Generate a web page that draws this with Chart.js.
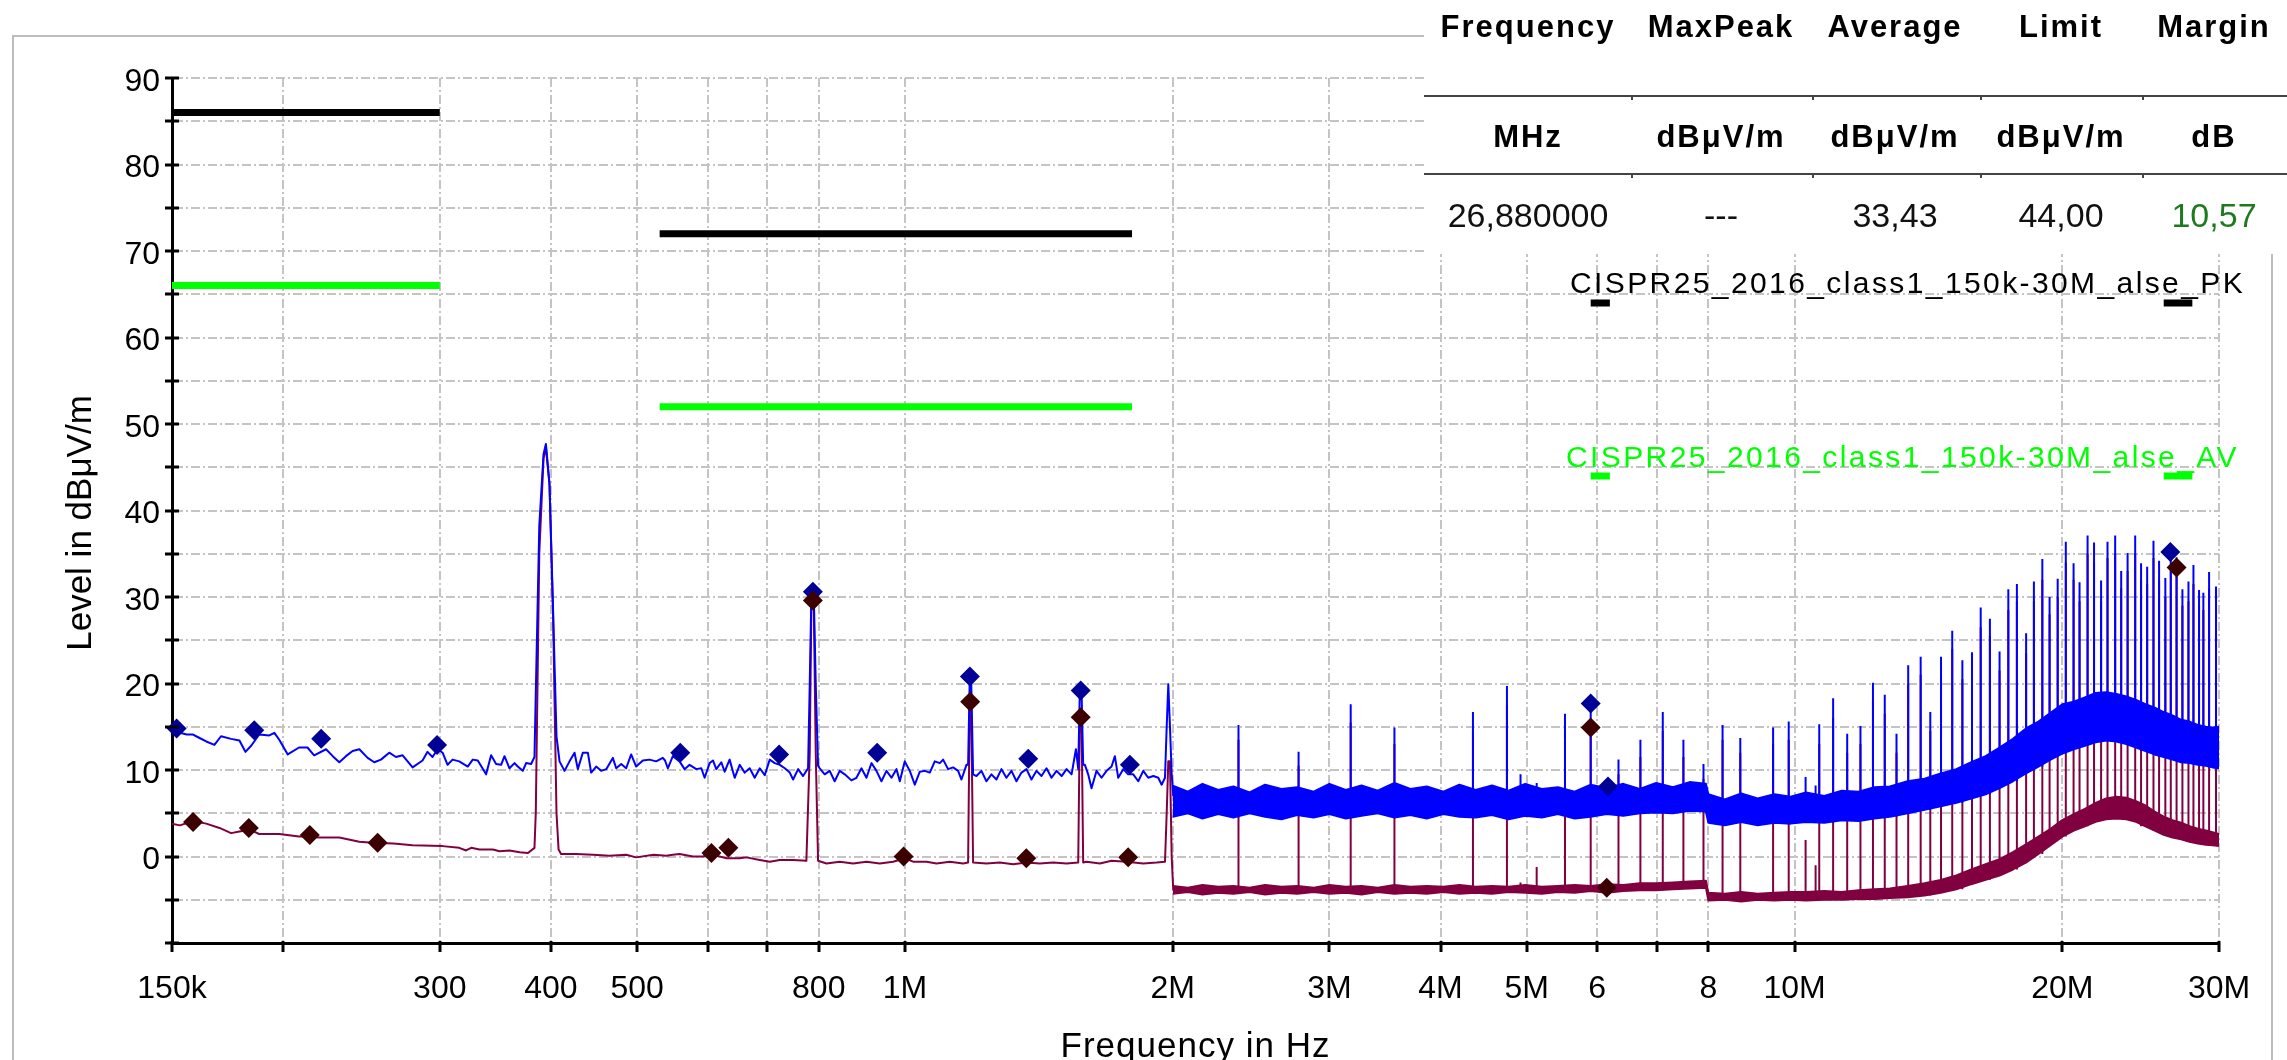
<!DOCTYPE html>
<html>
<head>
<meta charset="utf-8">
<script src="https://cdn.jsdelivr.net/npm/chart.js@4.4.1/dist/chart.umd.min.js"></script>
<style>
html, body { margin:0; padding:0; background:#fff; overflow:hidden; }
</style>
</head>
<body>
<canvas id="emc" width="2287" height="1060"></canvas>
<script>
// frequencies in MHz, levels in dBµV/m

// peak trace 150k..2M
const pkLowFreq = [
0.1500,0.1531,0.1558,0.1584,0.1611,0.1639,0.1674,0.1703,0.1748,0.1786,
0.1814,0.1841,0.1880,0.1930,0.1955,0.1980,0.2024,0.2084,0.2130,0.2167,
0.2235,0.2274,0.2313,0.2353,0.2394,0.2436,0.2489,0.2532,0.2576,0.2632,
0.2678,0.2725,0.2796,0.2869,0.2906,0.2944,0.2983,0.3022,0.3061,0.3101,
0.3155,0.3225,0.3267,0.3310,0.3382,0.3426,0.3471,0.3516,0.3547,0.3593,
0.3640,0.3671,0.3719,0.3751,0.3800,0.3833,0.3846,0.3881,0.3924,0.3948,
0.3985,0.4022,0.4058,0.4090,0.4143,0.4197,0.4252,0.4288,0.4344,0.4401,
0.4439,0.4497,0.4555,0.4615,0.4695,0.4736,0.4798,0.4860,0.4923,0.4987,
0.5074,0.5162,0.5252,0.5343,0.5374,0.5413,0.5484,0.5580,0.5653,0.5727,
0.5827,0.5903,0.5954,0.6032,0.6084,0.6137,0.6217,0.6271,0.6352,0.6436,
0.6520,0.6605,0.6691,0.6778,0.6868,0.6957,0.7047,0.7139,0.7233,0.7327,
0.7422,0.7487,0.7584,0.7682,0.7782,0.7816,0.7850,0.7897,0.7938,0.7986,
0.8020,0.8125,0.8230,0.8337,0.8446,0.8557,0.8706,0.8820,0.8935,0.9052,
0.9170,0.9289,0.9410,0.9533,0.9658,0.9783,0.9868,0.9996,1.0126,1.0258,
1.0392,1.0527,1.0665,1.0803,1.0944,1.1038,1.1182,1.1328,1.1475,1.1575,
1.1726,1.1776,1.1827,1.1868,1.1929,1.2033,1.2189,1.2348,1.2509,1.2672,
1.2837,1.3004,1.3175,1.3346,1.3520,1.3696,1.3874,1.4057,1.4240,1.4425,
1.4613,1.4805,1.5001,1.5195,1.5393,1.5566,1.5660,1.5725,1.5793,1.5862,
1.5932,1.6068,1.6208,1.6419,1.6633,1.6851,1.7071,1.7218,1.7368,1.7594,
1.7822,1.8057,1.8292,1.8530,1.8771,1.9019,1.9266,1.9433,1.9603,1.9689,
1.9771,1.9857,1.9944,2.0027
];
const pkLowLevel = [
14.5,14.3,14.1,14.1,13.7,13.3,12.9,13.9,13.6,13.4,
12.1,12.8,14.1,14.0,14.3,13.5,11.8,12.6,12.6,11.7,
12.4,11.6,10.9,11.6,12.2,12.4,11.4,10.9,11.2,12.0,
11.5,11.7,10.3,11.1,12.1,11.5,12.4,12.0,10.6,11.2,
11.0,10.4,11.2,11.1,9.5,11.7,10.7,10.6,11.6,10.2,
10.8,10.4,9.9,10.8,10.7,11.5,18.8,38.2,46.5,47.7,
43.1,28.5,13.9,11.0,9.9,11.0,12.0,10.1,12.0,12.0,
9.7,10.4,9.9,10.1,11.4,10.2,10.7,10.2,11.8,10.4,
11.1,11.2,11.0,11.4,11.1,10.2,11.6,11.0,10.1,10.6,
10.1,10.2,9.1,10.8,11.1,10.1,10.9,9.8,11.2,9.1,
10.6,9.7,10.2,9.1,10.2,9.4,11.2,10.8,10.6,10.2,
9.7,8.9,10.1,9.3,10.2,20.0,30.5,30.5,20.0,10.5,
10.2,9.5,9.9,8.7,9.9,9.5,8.8,9.1,10.2,9.1,
10.8,9.9,8.7,9.9,9.1,10.1,8.7,11.0,9.9,8.3,
9.8,9.9,9.7,11.0,10.8,11.2,10.1,10.3,9.9,8.9,
10.6,10.6,20.9,20.9,9.5,9.3,9.9,8.7,9.5,8.9,
10.1,9.1,9.9,8.7,9.7,10.1,8.9,9.9,9.3,10.2,
9.1,9.9,9.3,10.1,9.5,12.4,10.1,19.3,19.3,10.6,
10.6,9.5,7.9,9.9,9.1,9.9,10.4,11.6,9.1,10.1,
9.5,9.5,8.7,9.9,9.1,9.3,9.1,8.3,9.1,15.0,
19.9,15.0,9.6,7.0
];

// average trace 150k..2M
const avLowFreq = [
0.1500,0.1531,0.1584,0.1639,0.1696,0.1748,0.1786,0.1833,0.1880,0.1980,
0.2084,0.2130,0.2196,0.2313,0.2436,0.2521,0.2661,0.2796,0.3022,0.3155,
0.3211,0.3254,0.3325,0.3442,0.3502,0.3593,0.3689,0.3769,0.3833,0.3846,
0.3881,0.3924,0.3948,0.3985,0.4022,0.4058,0.4080,0.4106,0.4270,0.4460,
0.4656,0.4860,0.4987,0.5218,0.5391,0.5484,0.5580,0.5777,0.5930,0.6032,
0.6302,0.6520,0.6634,0.6868,0.7047,0.7233,0.7487,0.7748,0.7816,0.7850,
0.7897,0.7938,0.7986,0.8161,0.8446,0.8744,0.9052,0.9370,0.9699,0.9996,
1.0213,1.0575,1.0851,1.1231,1.1626,1.1776,1.1827,1.1868,1.1929,1.2348,
1.2782,1.3232,1.3696,1.4176,1.4675,1.5195,1.5660,1.5725,1.5793,1.5862,
1.6001,1.6564,1.7071,1.7744,1.8530,1.9183,1.9603,1.9689,1.9771,1.9857,
1.9944,2.0027
];
const avLowLevel = [
3.8,3.6,4.1,3.8,3.3,2.7,2.9,3.1,2.6,2.6,
2.3,2.3,2.2,2.2,1.7,1.6,1.5,1.3,1.2,1.0,
0.7,1.0,0.8,0.8,0.6,0.7,0.5,0.4,1.0,5.0,
35.0,46.0,47.3,43.0,28.0,5.0,0.8,0.3,0.3,0.2,
0.1,0.2,-0.1,0.2,0.1,0.2,0.3,0.0,0.0,0.3,
-0.2,-0.2,-0.1,-0.4,-0.6,-0.4,-0.4,-0.5,12.0,29.6,
29.6,12.0,-0.5,-0.8,-0.6,-0.8,-0.6,-0.8,-0.6,-0.2,
-0.6,-0.6,-0.8,-0.6,-0.8,-0.7,18.2,18.2,-0.7,-0.8,
-0.7,-0.9,-0.7,-0.8,-0.7,-0.8,-0.7,16.3,16.3,-0.7,
-0.6,-0.8,-0.5,-0.6,-0.8,-0.7,-0.6,5.0,11.0,11.0,
0.0,-3.9
];

// dense noise band 2M..30M (upper / lower edge of the trace)
const bandFreq = [
2.0,2.08,2.16,2.25,2.34,2.44,2.54,2.65,2.76,2.88,
3.0,3.13,3.26,3.4,3.55,3.7,3.86,4.03,4.2,4.38,
4.57,4.77,4.98,5.2,5.42,5.66,5.9,6.15,6.42,6.7,
6.99,7.3,7.62,7.95,8.0,8.35,8.71,9.09,9.49,9.9,
10.3,10.8,11.3,11.8,12.3,12.8,13.4,14.0,14.6,15.2,
15.8,16.4,17.0,17.6,18.2,18.8,19.4,20.0,20.6,21.2,
21.8,22.4,23.0,23.6,24.2,24.8,25.4,26.0,26.6,27.2,
27.8,28.4,29.0,29.5,30.0
];
const pkTop = [
8.2,7.5,8.4,7.7,8.1,7.4,8.3,7.8,8.0,7.5,
8.4,7.7,8.2,7.6,8.5,7.8,8.1,7.5,8.3,7.7,
8.2,7.6,8.4,7.8,8.0,7.5,8.3,7.9,8.4,7.8,
8.5,8.0,8.6,8.4,7.2,6.6,7.3,6.7,7.2,6.9,
7.4,7.0,7.6,7.5,8.0,8.1,8.7,9.0,9.6,10.1,
10.9,11.6,12.6,13.6,14.8,15.6,16.6,17.6,17.9,18.4,
18.9,19.0,18.8,18.5,18.1,17.6,17.2,16.7,16.3,15.8,
15.6,15.2,15.0,14.9,15.0
];
const pkBot = [
4.6,5.0,4.4,4.9,4.5,5.0,4.6,4.3,4.8,4.5,
4.9,4.4,4.7,5.0,4.5,4.8,4.4,4.9,4.6,4.5,
4.8,4.3,4.7,4.5,4.9,4.4,4.6,4.9,4.7,5.0,
5.1,5.0,5.3,5.2,3.9,3.6,4.0,3.6,3.9,3.8,
4.0,3.9,4.2,4.1,4.4,4.6,5.0,5.4,5.8,6.2,
6.7,7.2,7.9,8.7,9.6,10.4,11.2,11.9,12.4,12.8,
13.2,13.4,13.3,13.0,12.6,12.2,11.8,11.5,11.2,10.9,
10.8,10.6,10.5,10.3,10.2
];
const avTop = [
-3.4,-3.6,-3.3,-3.5,-3.4,-3.6,-3.3,-3.5,-3.4,-3.6,
-3.3,-3.5,-3.4,-3.6,-3.3,-3.5,-3.4,-3.5,-3.3,-3.5,
-3.4,-3.5,-3.3,-3.5,-3.4,-3.3,-3.4,-3.2,-3.3,-3.1,
-3.1,-3.0,-2.9,-2.8,-4.2,-4.3,-4.1,-4.3,-4.2,-4.1,
-4.1,-4.0,-4.1,-3.9,-3.8,-3.7,-3.4,-3.1,-2.7,-2.2,
-1.5,-0.9,-0.3,0.5,1.4,2.3,3.2,4.2,4.9,5.5,
6.2,6.7,6.9,6.8,6.4,5.9,5.2,4.6,4.2,3.9,
3.5,3.2,3.0,2.8,2.6
];
const avBot = [
-4.3,-4.1,-4.4,-4.2,-4.3,-4.1,-4.4,-4.2,-4.3,-4.1,
-4.3,-4.2,-4.4,-4.1,-4.3,-4.2,-4.3,-4.1,-4.3,-4.2,
-4.3,-4.1,-4.2,-4.3,-4.1,-4.2,-4.0,-4.2,-4.0,-3.9,
-3.9,-3.8,-3.7,-3.6,-5.1,-5.0,-5.2,-5.0,-5.1,-5.0,
-5.1,-5.0,-5.0,-4.9,-4.9,-4.8,-4.7,-4.5,-4.2,-3.8,
-3.2,-2.7,-2.2,-1.5,-0.7,0.3,1.3,2.3,3.0,3.5,
4.0,4.3,4.4,4.3,4.0,3.5,3.0,2.5,2.2,2.0,
1.7,1.5,1.35,1.3,1.2
];

// harmonic spikes 2M..30M
const spikeFreq = [
2.371,2.770,3.170,3.550,4.350,4.750,4.920,5.130,5.520,5.900,
6.340,6.710,7.110,7.500,7.900,8.300,8.690,9.460,9.850,10.29,
10.56,10.66,11.05,11.46,11.86,12.25,12.63,13.02,13.42,13.86,
14.21,14.61,15.04,15.44,15.83,16.19,16.58,17.00,17.39,17.78,
18.21,18.58,18.99,19.35,19.76,20.18,20.59,20.91,21.35,21.71,
22.11,22.48,22.93,23.29,23.68,24.15,24.52,24.91,25.32,25.69,
26.11,26.48,26.88,27.29,27.72,28.08,28.49,28.81,29.24,29.77
];
const spikePk = [
15.2,12.1,17.6,14.9,16.7,19.7,9.5,8.5,16.5,17.7,
11.2,13.5,16.7,13.5,10.7,15.2,13.7,14.9,15.6,9.2,
8.2,15.3,18.3,14.2,15.1,20.1,18.7,14.2,22.1,23.1,
16.7,23.1,26.1,22.7,23.6,28.8,27.5,23.7,30.9,31.5,
25.8,31.8,34.4,30.0,32.1,36.4,33.9,31.7,37.1,36.3,
31.9,36.4,37.1,33.0,35.1,37.1,33.9,33.5,36.5,34.2,
32.2,35.2,34.6,30.9,31.8,33.7,30.8,30.5,32.9,31.2
];
const spikeAv = [
13.5,10.5,15.5,13.0,14.5,17.5,-3.0,-1.2,14.5,14.9,
9.5,11.5,14.5,11.5,9.0,13.5,12.0,13.0,13.5,1.9,
-1.0,13.0,16.0,12.0,13.0,18.0,16.5,12.0,20.0,21.0,
14.5,21.0,24.0,20.5,21.5,26.5,25.5,21.5,28.5,29.5,
23.5,29.5,32.0,28.0,30.0,34.0,32.0,29.5,35.0,34.0,
29.5,34.5,35.0,31.0,33.0,35.0,32.0,31.5,34.5,32.0,
30.0,33.0,33.4,29.0,29.5,31.5,29.0,28.5,31.0,29.0
];

// final measurement markers
const pkMarkFreq = [0.1518,0.1856,0.2207,0.2979,0.5590,0.7220,0.7880,0.9306,1.1830,1.3760,1.5760,1.7900,5.900,6.170,26.45];
const pkMarkLevel = [14.8,14.6,13.6,12.9,12.0,11.8,30.6,12.0,20.8,11.3,19.2,10.6,17.7,8.1,35.2];
const avMarkFreq = [0.1584,0.1830,0.2143,0.2554,0.6060,0.6332,0.7880,0.9965,1.1840,1.3690,1.5760,1.7820,5.900,6.150,26.88];
const avMarkLevel = [4.0,3.3,2.5,1.6,0.4,1.0,29.6,0.0,17.9,-0.2,16.1,-0.1,14.9,-3.6,33.4];

// CISPR 25 class 1 limits
const limitStart = [0.15,0.53,5.9,26];
const limitEnd = [0.3,1.8,6.2,28];
const limitPk = [86,72,64,64];
const limitAv = [66,52,44,44];
const limitNames = ['CISPR25_2016_class1_150k-30M_alse_PK','CISPR25_2016_class1_150k-30M_alse_AV'];

// axis ticks
const xTickValues = [0.15,0.2,0.3,0.4,0.5,0.6,0.7,0.8,1,2,3,4,5,6,7,8,10,20,30];
const xTickLabels = ['150k','','300','400','500','','','800','1M','2M','3M','4M','5M','6','','8','10M','20M','30M'];
const yLabelValues = [0,10,20,30,40,50,60,70,80,90];

// result table
const tableHead = ['Frequency','MaxPeak','Average','Limit','Margin'];
const tableUnit = ['MHz','dBμV/m','dBμV/m','dBμV/m','dB'];
const tableRow = ['26,880000','---','33,43','44,00','10,57'];

const BLUE = '#0000ff', MAROON = '#800040';
const SANS = '"Liberation Sans", Arial, sans-serif';

const xy = (fs, vs) => fs.map((f, i) => ({ x: f, y: vs[i] }));

function spikes(fs, tops, baseFreq, baseLevel) {
  const out = [];
  fs.forEach((f, i) => {
    let k = 0;
    baseFreq.forEach((b, j) => { if (Math.abs(b - f) < Math.abs(baseFreq[k] - f)) k = j; });
    out.push({ x: f, y: baseLevel[k] }, { x: f, y: tops[i] }, { x: f, y: null });
  });
  return out;
}

function limits(starts, ends, levels) {
  const out = [];
  starts.forEach((s, i) => out.push({ x: s, y: levels[i] }, { x: ends[i], y: levels[i] }, { x: ends[i], y: null }));
  return out;
}

const trace = (data, color, width, order, extra) => Object.assign({
  data: data, borderColor: color, backgroundColor: color, borderWidth: width,
  pointRadius: 0, borderJoinStyle: 'round', order: order, fill: false
}, extra || {});

const marks = (data, color, order) => ({
  data: data, showLine: false, pointStyle: 'rectRot', pointRadius: 10, pointHoverRadius: 10,
  pointBackgroundColor: color, pointBorderColor: color, pointBorderWidth: 0, order: order, clip: false
});

const decor = {
  id: 'decor',
  beforeDraw(chart) {
    const c = chart.ctx;
    c.save();
    c.fillStyle = '#fff';
    c.fillRect(0, 0, chart.width, chart.height);
    c.strokeStyle = '#bdbdbd';
    c.lineWidth = 2;
    c.strokeRect(13, 36, 2259, 1100);
    c.restore();
  },
  afterDraw(chart) {
    const c = chart.ctx;
    const xs = chart.scales.x, ys = chart.scales.y;
    c.save();

    // tick marks across the axes
    c.strokeStyle = '#000';
    c.lineWidth = 3;
    ys.ticks.forEach(t => {
      const py = Math.round(ys.getPixelForValue(t.value));
      c.beginPath(); c.moveTo(xs.left - 7, py); c.lineTo(xs.left + 7, py); c.stroke();
    });
    xs.ticks.forEach(t => {
      const px = Math.round(xs.getPixelForValue(t.value));
      c.beginPath(); c.moveTo(px, ys.bottom - 2); c.lineTo(px, ys.bottom + 9); c.stroke();
    });

    // axis titles
    c.fillStyle = '#000';
    c.font = '35px ' + SANS;
    c.textBaseline = 'alphabetic';
    c.textAlign = 'center';
    c.letterSpacing = '1px';
    c.fillText('Frequency in Hz', (xs.left + xs.right) / 2, 1057);
    c.letterSpacing = '0px';
    c.save();
    c.translate(91, 523);
    c.rotate(-Math.PI / 2);
    c.fillText('Level in dBμV/m', 0, 0);
    c.restore();

    // limit line names
    c.textAlign = 'left';
    c.font = '30px ' + SANS;
    c.letterSpacing = '2.4px';
    c.fillStyle = '#000';
    c.fillText(limitNames[0], 1570, 293);
    c.fillStyle = '#00ff00';
    c.fillText(limitNames[1], 1566, 467);

    // result table
    c.fillStyle = '#fff';
    c.fillRect(1424, 0, chart.width - 1424, 254);
    const colX = [1528, 1721, 1895, 2061, 2214];
    c.textAlign = 'center';
    c.fillStyle = '#000';
    c.font = 'bold 31px ' + SANS;
    c.letterSpacing = '2px';
    tableHead.forEach((t, i) => c.fillText(t, colX[i], 37));
    tableUnit.forEach((t, i) => c.fillText(t, colX[i], 147));
    c.letterSpacing = '0px';
    c.font = '34px ' + SANS;
    tableRow.forEach((t, i) => {
      c.fillStyle = i === 4 ? '#1e7a1e' : '#111';
      c.fillText(t, colX[i], 227);
    });
    c.strokeStyle = '#444';
    c.lineWidth = 2;
    [96, 174].forEach(ly => {
      c.beginPath(); c.moveTo(1424, ly); c.lineTo(chart.width, ly); c.stroke();
      [1632, 1813, 1981, 2143].forEach(sx => {
        c.beginPath(); c.moveTo(sx, ly); c.lineTo(sx, ly + 4); c.stroke();
      });
    });
    c.restore();
  }
};

new Chart(document.getElementById('emc'), {
  type: 'line',
  data: {
    datasets: [
      marks(xy(pkMarkFreq, pkMarkLevel), '#000096', 1),
      marks(xy(avMarkFreq, avMarkLevel), '#3c0000', 0),
      trace(spikes(spikeFreq, spikePk, bandFreq, pkBot), BLUE, 2, 2),
      trace(xy(pkLowFreq, pkLowLevel), BLUE, 2, 3),
      trace(xy(bandFreq, pkTop), BLUE, 2, 4, { fill: 5 }),
      trace(xy(bandFreq, pkBot), BLUE, 2, 5),
      trace(spikes(spikeFreq, spikeAv, bandFreq, avBot), MAROON, 2, 6),
      trace(xy(avLowFreq, avLowLevel), MAROON, 2, 7),
      trace(xy(bandFreq, avTop), MAROON, 2, 8, { fill: 9 }),
      trace(xy(bandFreq, avBot), MAROON, 2, 9),
      trace(limits(limitStart, limitEnd, limitPk), '#000000', 7, 10, { borderCapStyle: 'butt' }),
      trace(limits(limitStart, limitEnd, limitAv), '#00ff00', 7, 11, { borderCapStyle: 'butt' })
    ]
  },
  options: {
    responsive: false,
    animation: false,
    devicePixelRatio: 1,
    layout: { padding: { top: 78, right: 68, left: 0, bottom: 0 } },
    plugins: { legend: { display: false }, tooltip: { enabled: false } },
    scales: {
      x: {
        type: 'logarithmic',
        min: 0.15,
        max: 30,
        afterFit: s => { s.height = 117; },
        afterBuildTicks: s => { s.ticks = xTickValues.map(v => ({ value: v })); },
        ticks: {
          autoSkip: false, maxRotation: 0, minRotation: 0, padding: 27, color: '#000',
          font: { family: SANS, size: 32 },
          callback: (v, i) => xTickLabels[i]
        },
        grid: { color: '#c4c4c4', lineWidth: 2, drawTicks: false },
        border: { display: true, color: '#000', width: 3, dash: [9, 3, 2, 3] }
      },
      y: {
        type: 'linear',
        min: -10,
        max: 90,
        afterFit: s => { s.width = 172; },
        ticks: {
          stepSize: 5, padding: 12, labelOffset: 4, color: '#000',
          font: { family: SANS, size: 32 },
          callback: v => yLabelValues.includes(v) ? String(v) : ''
        },
        grid: { color: '#c4c4c4', lineWidth: 2, drawTicks: false },
        border: { display: true, color: '#000', width: 3, dash: [9, 3, 2, 3] }
      }
    }
  },
  plugins: [decor]
});
</script>
</body>
</html>
